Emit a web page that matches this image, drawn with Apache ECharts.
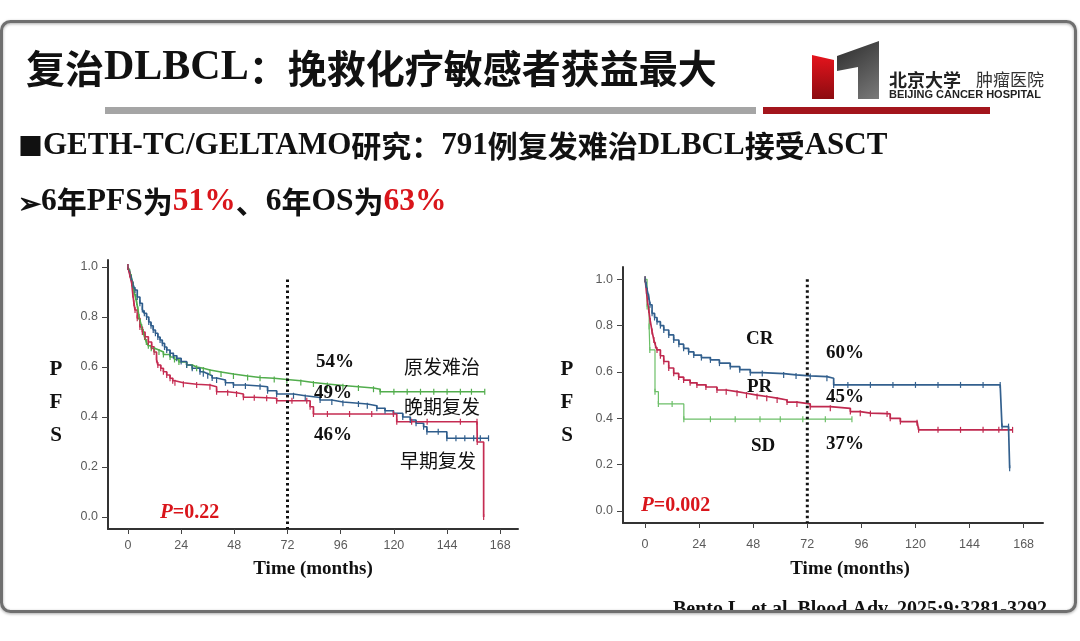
<!DOCTYPE html>
<html>
<head>
<meta charset="utf-8">
<title>复治DLBCL：挽救化疗敏感者获益最大</title>
<script src="https://cdn.jsdelivr.net/npm/echarts@6/dist/echarts.min.js"></script>
<style>
	html, body { margin: 0; padding: 0; background: #fff; }
	#slide { width: 1080px; height: 641px; }
</style>
</head>
<body>
<div id="slide"></div>
<script>
	/*刻度*/
	var monthTicks = [0, 24, 48, 72, 96, 120, 144, 168];
	var pfsTicks = [0, 0.2, 0.4, 0.6, 0.8, 1.0];

	/*左图：按复发类型 [月, PFS]*/
	var primaryRefractory = [[0,1],[0.8,0.98],[1.5,0.96],[2.2,0.93],[2.8,0.9],[3.4,0.88],[3.9,0.86],[4.5,0.83],[5,0.8],[5.6,0.78],[6.2,0.76],[6.9,0.74],[7.5,0.72],[8.3,0.7],[9.2,0.685],[10.5,0.675],[12,0.668],[14,0.66],[16,0.65],[19,0.64],[21,0.63],[23,0.62],[26.5,0.608],[29,0.6],[31,0.595],[34,0.588],[37,0.58],[42,0.572],[47.6,0.564],[54,0.558],[59.6,0.555],[66,0.55],[71.7,0.545],[78,0.538],[83.7,0.532],[90,0.526],[97,0.521],[104,0.516],[110.8,0.511],[113.8,0.501],[120,0.501],[126,0.501],[132,0.501],[138,0.501],[144,0.501],[150,0.501],[155,0.501],[161,0.501]];
	var lateRelapse = [[0,1],[0.8,0.975],[1.5,0.955],[2.3,0.93],[3.2,0.908],[4.2,0.88],[5.4,0.855],[6.5,0.83],[7.4,0.815],[8.4,0.8],[9.4,0.78],[10.4,0.765],[11.4,0.748],[12.4,0.735],[13.5,0.72],[14.5,0.708],[15.5,0.695],[16.5,0.68],[17.5,0.668],[19,0.655],[20.5,0.645],[22,0.635],[24,0.622],[26.5,0.608],[29,0.595],[32.5,0.581],[34,0.573],[36,0.565],[38,0.556],[40,0.548],[44,0.537],[47.6,0.528],[53,0.524],[59.6,0.521],[63,0.505],[67.1,0.492],[74.7,0.485],[80,0.478],[86.7,0.468],[92,0.46],[97,0.455],[104,0.452],[108,0.445],[112.3,0.435],[116,0.425],[119.8,0.415],[124,0.4],[127.4,0.388],[130,0.375],[133.4,0.361],[134.9,0.341],[140,0.341],[143.9,0.315],[148,0.315],[152,0.315],[156,0.315],[159,0.315],[162.7,0.315]];
	var earlyRelapse = [[0,1],[0.8,0.97],[1.7,0.935],[2.2,0.89],[2.7,0.855],[3.2,0.828],[4.2,0.795],[5.4,0.76],[6.5,0.74],[7.7,0.721],[9.2,0.7],[10.7,0.681],[11.8,0.66],[12.9,0.63],[13.5,0.608],[14.8,0.595],[16,0.581],[17.5,0.568],[19,0.555],[20.2,0.545],[21.2,0.537],[25,0.531],[31,0.528],[37,0.521],[40,0.501],[45,0.497],[49,0.492],[52.1,0.479],[57,0.477],[62.6,0.475],[67.1,0.465],[74,0.465],[80.7,0.465],[82.2,0.441],[83.7,0.412],[90,0.412],[100,0.412],[110,0.412],[119.8,0.412],[121.3,0.381],[128,0.381],[135,0.381],[150,0.381],[157.5,0.381],[157.6,0.3],[160.5,0]];

	/*右图：按挽救化疗疗效 [月, PFS]*/
	var crCurve = [[0,1],[0.5,0.975],[1,0.95],[1.6,0.925],[2.2,0.89],[3.1,0.853],[4.2,0.835],[5.3,0.817],[6.8,0.8],[8.3,0.781],[10.5,0.76],[12.7,0.738],[15,0.72],[17.1,0.702],[19.3,0.687],[21.6,0.673],[25,0.662],[29,0.652],[33,0.638],[37.8,0.623],[42,0.61],[46.7,0.597],[52,0.593],[61.5,0.587],[67,0.583],[73.3,0.58],[80.7,0.573],[83.7,0.544],[90,0.544],[100,0.544],[110,0.544],[120,0.544],[130,0.544],[140,0.544],[150,0.544],[157.6,0.544],[158.4,0.364],[161.3,0.364],[161.8,0.184]];
	var prCurve = [[0,1],[0.6,0.95],[1.1,0.9],[1.6,0.868],[2.3,0.82],[3.1,0.775],[3.9,0.738],[4.6,0.715],[5.3,0.695],[6.8,0.67],[8.3,0.645],[10.5,0.617],[12.7,0.594],[14.9,0.578],[17.1,0.565],[20,0.553],[23,0.544],[27,0.535],[31.9,0.522],[36,0.515],[40.8,0.508],[45,0.5],[49.7,0.494],[54,0.487],[58.6,0.479],[63,0.47],[67.4,0.462],[73.3,0.45],[82.2,0.443],[91.1,0.429],[95.5,0.422],[100,0.42],[107.4,0.419],[108.8,0.4],[113.3,0.386],[120.7,0.381],[121.4,0.35],[130,0.35],[140,0.35],[150,0.35],[157,0.35],[163.1,0.35]];
	var sdCurve = [[0,1],[0.9,0.882],[1.8,0.796],[2.1,0.695],[4.4,0.515],[5.9,0.462],[12,0.462],[17.2,0.396],[29,0.396],[40,0.396],[51,0.396],[60,0.396],[70,0.396],[80,0.396],[91.8,0.396]];

	var landmark = 72;

	var serif = '"Liberation Serif", "Times New Roman", serif',
		sans = '"Liberation Sans", Arial, sans-serif',
		cjk = '"Noto Sans CJK SC", sans-serif',
		red = '#d9151b';

	function kmSeries(data, color, xi, width){
		return {
			type: 'line',
			step: 'end',
			xAxisIndex: xi,
			yAxisIndex: xi,
			data: data,
			symbol: 'rect',
			symbolSize: [1.2, 6],
			showSymbol: true,
			itemStyle: { color: color },
			lineStyle: { color: color, width: width || 1.7 },
			silent: true,
			z: 3
		};
	}
	function landmarkSeries(xi, top, bottom){
		return {
			type: 'line',
			xAxisIndex: xi,
			yAxisIndex: xi,
			data: [[landmark, top], [landmark, bottom]],
			symbol: 'none',
			lineStyle: { color: '#111', width: 3, type: [2.5, 3] },
			silent: true,
			z: 4
		};
	}
	function xAxisCfg(gi, min, max, gap, labelGap, pad){
		return {
			type: 'value', gridIndex: gi, min: min, max: max,
			name: 'Time (months)', nameLocation: 'middle', nameGap: gap,
			nameTextStyle: { fontFamily: serif, fontWeight: 'bold', fontSize: 19, color: '#111', padding: [0, 0, 0, pad || 0] },
			axisLine: { onZero: false, lineStyle: { color: '#333', width: 2 } },
			axisTick: { show: true, length: 5, customValues: monthTicks, lineStyle: { color: '#444' } },
			axisLabel: { customValues: monthTicks, color: '#5a5a5a', fontFamily: sans, fontSize: 12.5, margin: labelGap },
			splitLine: { show: false }
		};
	}
	function yAxisCfg(gi, min, max){
		return {
			type: 'value', gridIndex: gi, min: min, max: max,
			axisLine: { show: true, onZero: false, lineStyle: { color: '#333', width: 2 } },
			axisTick: { show: true, length: 6, customValues: pfsTicks, lineStyle: { color: '#444' } },
			axisLabel: { customValues: pfsTicks, color: '#5a5a5a', fontFamily: sans, fontSize: 12.5, margin: 10,
				formatter: function(v){ return v.toFixed(1); } },
			splitLine: { show: false }
		};
	}
	function txt(x, y, text, size, opt){
		opt = opt || {};
		return {
			type: 'text', x: x, y: y, z: opt.z || 10,
			style: {
				text: text,
				fontSize: size,
				fontFamily: opt.family || serif,
				fontWeight: opt.weight || 'bold',
				fontStyle: opt.italic ? 'italic' : 'normal',
				fill: opt.color || '#111',
				align: opt.align || 'left',
				verticalAlign: 'middle',
				lineHeight: opt.lineHeight,
				rich: opt.rich
			}
		};
	}
	function pValue(x, y, text){
		return txt(x, y, '{i|P}{n|' + text + '}', 20, { rich: {
			i: { fontFamily: serif, fontWeight: 'bold', fontStyle: 'italic', fontSize: 21, fill: red },
			n: { fontFamily: serif, fontWeight: 'bold', fontSize: 20, fill: red }
		} });
	}

	var graphics = [
		/*标题*/
		txt(26, 68, '{c|复治}{l|DLBCL}{c|：挽救化疗敏感者获益最大}', 42, { rich: {
			c: { fontFamily: cjk, fontWeight: 'bold', fontSize: 39, fill: '#111' },
			l: { fontFamily: serif, fontWeight: 'bold', fontSize: 42, fill: '#111' }
		} }),
		{ type: 'rect', shape: { x: 105, y: 107, width: 651, height: 7 }, style: { fill: '#a5a5a5' } },
		{ type: 'rect', shape: { x: 763, y: 107, width: 227, height: 7 }, style: { fill: '#a3151c' } },
		/*logo*/
		{ type: 'polygon', shape: { points: [[812, 55], [834, 60], [834, 99], [812, 99]] },
			style: { fill: new echarts.graphic.LinearGradient(0, 0, 0, 1, [{ offset: 0, color: '#e5141d' }, { offset: 1, color: '#8c0b10' }]) } },
		{ type: 'polygon', shape: { points: [[837, 56], [879, 41], [879, 99], [858, 99], [858, 67], [837, 71]] },
			style: { fill: new echarts.graphic.LinearGradient(0, 0, 1, 1, [{ offset: 0, color: '#2b2b2b' }, { offset: 1, color: '#7a7a7a' }]) } },
		txt(889, 80, '北京大学', 18, { family: cjk, weight: 'bold', color: '#222' }),
		txt(976, 80, '肿瘤医院', 17, { family: cjk, weight: 'normal', color: '#333' }),
		txt(889, 95, 'BEIJING CANCER HOSPITAL', 11, { family: sans, weight: 'bold', color: '#222' }),
		/*要点*/
		txt(18, 146, '{a|■}{l|GETH-TC/GELTAMO}{c|研究：}{l|791}{c|例复发难治}{l|DLBCL}{c|接受}{l|ASCT}', 31, { rich: {
			a: { fontFamily: cjk, fontWeight: 'bold', fontSize: 25, fill: '#111' },
			c: { fontFamily: cjk, fontWeight: 'bold', fontSize: 30, fill: '#111' },
			l: { fontFamily: serif, fontWeight: 'bold', fontSize: 31, fill: '#111' }
		} }),
		txt(18, 202, '{a|➢}{l|6}{c|年}{l|PFS}{c|为}{r|51%}{c|、}{l|6}{c|年}{l|OS}{c|为}{r|63%}', 31, { rich: {
			a: { fontFamily: cjk, fontWeight: 'bold', fontSize: 28, fill: '#111' },
			c: { fontFamily: cjk, fontWeight: 'bold', fontSize: 30, fill: '#111' },
			l: { fontFamily: serif, fontWeight: 'bold', fontSize: 31.5, fill: '#111' },
			r: { fontFamily: serif, fontWeight: 'bold', fontSize: 31.5, fill: red }
		} }),
		/*左图标注*/
		txt(56, 403, 'P\nF\nS', 21, { align: 'center', lineHeight: 33 }),
		txt(316, 362, '54%', 19),
		txt(314, 393, '49%', 19),
		txt(314, 435, '46%', 19),
		txt(404, 367, '原发难治', 19, { family: cjk, weight: 'normal' }),
		txt(404, 407, '晚期复发', 19, { family: cjk, weight: 'normal' }),
		txt(400, 461, '早期复发', 19, { family: cjk, weight: 'normal' }),
		pValue(160, 513, '=0.22'),
		/*右图标注*/
		txt(567, 403, 'P\nF\nS', 21, { align: 'center', lineHeight: 33 }),
		txt(746, 339, 'CR', 19),
		txt(747, 387, 'PR', 19),
		txt(751, 446, 'SD', 19),
		txt(826, 353, '60%', 19),
		txt(826, 397, '45%', 19),
		txt(826, 444, '37%', 19),
		pValue(641, 506, '=0.002'),
		/*文献，被边框截断*/
		txt(673, 610, 'Bento L, et al. Blood Adv. 2025;9:3281-3292', 20, { z: 20 }),
		{ type: 'rect', z: 21, shape: { x: 0, y: 613, width: 1080, height: 28 }, style: { fill: '#fff' } },
		/*幻灯片边框*/
		{ type: 'rect', z: 22, shape: { x: 1.5, y: 21.5, width: 1074, height: 590, r: 9 },
			style: { fill: 'none', stroke: '#6f6f6f', lineWidth: 3, shadowBlur: 3, shadowColor: 'rgba(0,0,0,0.35)', shadowOffsetY: 1 } }
	];

	var option = {
		backgroundColor: '#fff',
		animation: false,
		grid: [
			{ left: 108, right: 562, top: 260, bottom: 112 },
			{ left: 623, right: 37, top: 267, bottom: 118 }
		],
		xAxis: [ xAxisCfg(0, -9, 176, 31, 10), xAxisCfg(1, -9.8, 176.6, 37, 15, 34) ],
		yAxis: [ yAxisCfg(0, -0.048, 1.028), yAxisCfg(1, -0.052, 1.053) ],
		series: [
			kmSeries(primaryRefractory, '#52ad4d', 0),
			kmSeries(lateRelapse, '#2f5d8c', 0),
			kmSeries(earlyRelapse, '#c52c52', 0),
			landmarkSeries(0, 0.95, -0.048),
			kmSeries(sdCurve, '#6cbf68', 1, 1.2),
			kmSeries(prCurve, '#c0294f', 1),
			kmSeries(crCurve, '#33608e', 1),
			landmarkSeries(1, 1.0, -0.052)
		],
		graphic: { elements: graphics }
	};

	var myChart = echarts.init(document.getElementById('slide'));
	myChart.setOption(option);
</script>
</body>
</html>
